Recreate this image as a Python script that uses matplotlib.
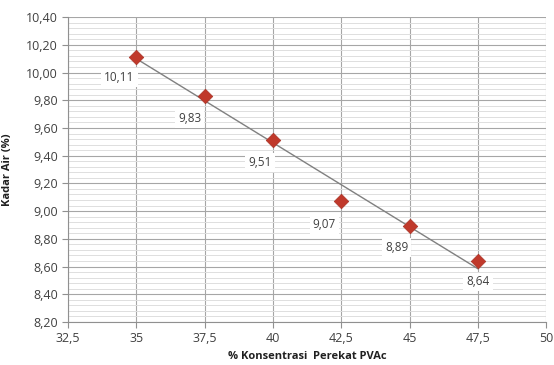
import numpy as np
import matplotlib.pyplot as plt
from matplotlib.ticker import MultipleLocator, FuncFormatter

plt.rcParams['font.family'] = ['Open Sans', 'DejaVu Sans']

# data
konsentrasi = [35, 37.5, 40, 42.5, 45, 47.5]
kadar_air = [10.11, 9.83, 9.51, 9.07, 8.89, 8.64]
labels = ['10,11', '9,83', '9,51', '9,07', '8,89', '8,64']
# label offsets in pixels (dx, dy)
offsets = [(-17, -20), (-15, -22), (-13, -22), (-17, -23), (-13, -21), (0, -21)]

fig = plt.figure(figsize=(5.54, 3.65), dpi=100)
ax = fig.add_axes([0.123, 0.118, 0.863, 0.835])

# linear trendline
p = np.polyfit(konsentrasi, kadar_air, 1)
xt = np.array([konsentrasi[0], konsentrasi[-1]])
ax.plot(xt, np.polyval(p, xt), color='#808080', lw=1.0, zorder=3)

ax.scatter(konsentrasi, kadar_air, marker='D', s=55, color='#c0392b',
           edgecolors='#a93226', linewidths=0.5, zorder=4)

for x, y, t, (dx, dy) in zip(konsentrasi, kadar_air, labels, offsets):
    ax.annotate(t, (x, y), xytext=(dx * 0.72, dy * 0.72), textcoords='offset points',
                ha='center', va='center', fontsize=8.5, color='#404040', zorder=5,
                bbox=dict(boxstyle='square,pad=0.25', fc='white', ec='none'))

ax.set_xlim(32.5, 50)
ax.set_ylim(8.2, 10.4)
ax.xaxis.set_major_locator(MultipleLocator(2.5))
ax.yaxis.set_major_locator(MultipleLocator(0.2))
ax.yaxis.set_minor_locator(MultipleLocator(0.04))

comma = lambda v, pos: ('%g' % v).replace('.', ',')
ax.xaxis.set_major_formatter(FuncFormatter(comma))
ax.yaxis.set_major_formatter(FuncFormatter(lambda v, pos: ('%.2f' % v).replace('.', ',')))

ax.grid(True, which='major', color='#a6a6a6', lw=0.8)
ax.grid(True, which='minor', axis='y', color='#dedede', lw=0.7)
ax.set_axisbelow(True)

for s in ['top', 'right']:
    ax.spines[s].set_visible(False)
for s in ['left', 'bottom']:
    ax.spines[s].set_color('#909090')
ax.tick_params(which='major', colors='#909090', labelcolor='#404040', labelsize=9, length=4)
ax.tick_params(which='minor', length=0)

ax.set_xlabel('% Konsentrasi  Perekat PVAc', fontsize=8, fontweight='bold', color='#202020', labelpad=4)
ax.set_ylabel('Kadar Air (%)', fontsize=8, fontweight='bold', color='#202020', labelpad=9)

fig.savefig('out.png', dpi=100)
